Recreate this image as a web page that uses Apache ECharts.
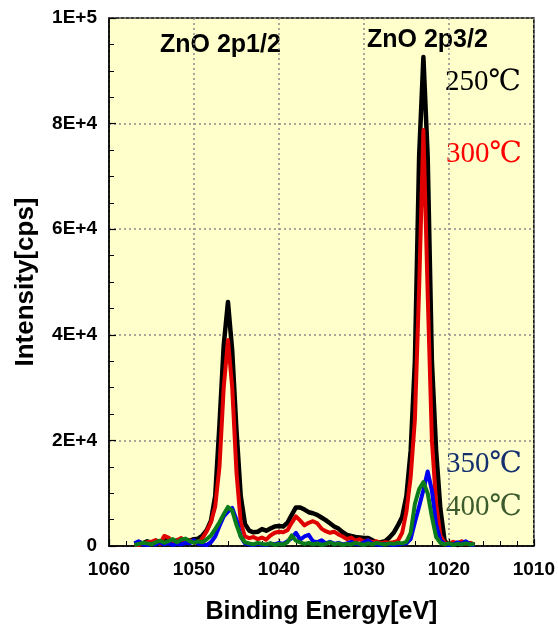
<!DOCTYPE html>
<html lang="en">
<head>
    <meta charset="UTF-8">
    <title>ZnO 2p XPS</title>
    <script src="https://cdn.jsdelivr.net/npm/echarts@6/dist/echarts.min.js"></script>
    <style>
        html, body { margin: 0; padding: 0; background: #fff; }
    </style>
</head>
<body>
    <div id="xps" style="width: 558px; height: 630px"></div>

    <script>
        // binding energy (eV), shared by all four spectra
        var energy = [
            1057, 1056.5, 1056, 1055.5, 1055, 1054.5, 1054, 1053.5, 1053, 1052.5,
            1052, 1051.5, 1051, 1050.5, 1050, 1049.5, 1049, 1048.5, 1048, 1047.5,
            1047, 1046.5, 1046, 1045.5, 1045, 1044.5, 1044, 1043.5, 1043, 1042.5,
            1042, 1041.5, 1041, 1040.5, 1040, 1039.5, 1039, 1038.5, 1038, 1037.5,
            1037, 1036.5, 1036, 1035.5, 1035, 1034.5, 1034, 1033.5, 1033, 1032.5,
            1032, 1031.5, 1031, 1030.5, 1030, 1029.5, 1029, 1028.5, 1028, 1027.5,
            1027, 1026.5, 1026, 1025.5, 1025, 1024.5, 1024, 1023.5, 1023, 1022.5,
            1022, 1021.5, 1021, 1020.5, 1020, 1019.5, 1019, 1018.5, 1018, 1017.5,
            1017
        ];

        // intensity (cps)
        var s250 = [
            400, 700, 500, 900, 600, 1000, 800, 1200, 900, 700,
            1100, 900, 1200, 1000, 1300, 1400, 2000, 3000, 4800, 9500,
            23000, 38000, 46200, 37000, 22000, 9500, 4200, 2900, 2600, 2700,
            3200, 2900, 3300, 3700, 3800, 3700, 4400, 5900, 7300, 7300,
            6900, 6400, 6200, 5900, 5400, 4900, 4300, 3700, 3300, 2600,
            2100, 1900, 1700, 1600, 1500, 1500, 1100, 600, 700, 900,
            1600, 2500, 3900, 5500, 9500, 18000, 35000, 74000, 92600, 74000,
            35000, 18000, 7000, 900, 300, 500, 200, 400, 300, 500,
            300
        ];
        var s300 = [
            300, 200, 500, 700, 800, 1100, 400, 1900, 1600, 500,
            1100, 1500, 600, 1100, 700, 600, 1500, 2800, 4500, 7500,
            15000, 30000, 39000, 30000, 14000, 4500, 1800, 1500, 1700, 1300,
            1600, 1200, 2000, 2500, 2700, 2600, 3000, 4400, 5600, 4800,
            3900, 4400, 4700, 4300, 3300, 2800, 2500, 2700, 2200, 1800,
            1300, 1600, 1000, 1300, 800, 1100, 700, 900, 500, 700,
            600, 700, 1000, 2500, 6500, 13000, 24000, 49000, 78800, 48000,
            20000, 8000, 2000, 600, 300, 800, 500, 900, 400, 600,
            200
        ];
        var s350 = [
            500, 900, 300, 200, 400, 300, 700, 300, 500, 200,
            400, 300, 600, 500, 1100, 400, 300, 200, 700, 1800,
            3800, 5600, 6500, 7200, 5000, 1800, 500, 300, 200, 400,
            300, 200, 500, 300, 600, 400, 900, 1500, 2500, 1200,
            1800, 2100, 900, 700, 1100, 500, 800, 400, 600, 300,
            500, 800, 400, 300, 700, 1100, 400, 300, 200, 400,
            300, 200, 300, 400, 500, 1300, 4500, 7500, 10600, 14100,
            10500, 4000, 1100, 400, 200, 300, 700, 400, 900, 300,
            200
        ];
        var s400 = [
            200, 400, 600, 500, 300, 700, 1000, 600, 900, 1300,
            700, 1200, 1400, 900, 600, 900, 700, 1300, 2000, 3200,
            4500, 6000, 7400, 6700, 4000, 1800, 700, 500, 300, 600,
            400, 300, 500, 200, 400, 300, 700, 2000, 1000, 700,
            400, 600, 300, 500, 200, 400, 700, 300, 500, 200,
            400, 300, 600, 400, 200, 500, 300, 600, 400, 300,
            500, 400, 600, 500, 800, 2500, 8000, 10800, 12100, 10000,
            5500, 1700, 600, 300, 500, 200, 400, 300, 500, 300,
            400
        ];

        var yTickLabels = ['0', '2E+4', '4E+4', '6E+4', '8E+4', '1E+5'];

        function pairs(vals) {
            return energy.map(function(e, i) {
                return [e, vals[i]];
            });
        }

        function spectrum(name, vals, color, width) {
            return {
                name: name,
                type: 'line',
                data: pairs(vals),
                showSymbol: false,
                lineStyle: { color: color, width: width, join: 'round' },
                itemStyle: { color: color },
                silent: true
            };
        }

        var xpsChart = echarts.init(document.getElementById('xps'));

        var boldSans = 'Liberation Sans, Arial, sans-serif';
        var serif = '"Liberation Serif", "DejaVu Serif", serif';

        var option = {
            animation: false,
            grid: {
                left: 109,
                right: 22,
                top: 18,
                bottom: 84,
                show: true,
                backgroundColor: '#ffffcc',
                borderColor: '#000',
                borderWidth: 1.5
            },
            xAxis: {
                type: 'value',
                inverse: true,
                min: 1010,
                max: 1060,
                interval: 10,
                name: 'Binding Energy[eV]',
                nameLocation: 'middle',
                nameGap: 54,
                nameTextStyle: { fontFamily: boldSans, fontWeight: 'bold', fontSize: 25, color: '#000' },
                axisLine: { lineStyle: { color: '#000', width: 1.5 } },
                axisTick: { inside: true, length: 7, lineStyle: { color: '#000', width: 1.2 } },
                minorTick: { show: true, splitNumber: 5, length: 5, lineStyle: { color: '#000', width: 1 } },
                axisLabel: {
                    margin: 14,
                    fontFamily: boldSans,
                    fontWeight: 'bold',
                    fontSize: 19,
                    color: '#000',
                    showMinLabel: true,
                    showMaxLabel: true,
                    formatter: function(v) {
                        return String(v);
                    }
                },
                splitLine: { show: true, lineStyle: { color: '#8a8a8a', width: 1.5, type: [2, 3] } }
            },
            yAxis: {
                type: 'value',
                min: 0,
                max: 100000,
                interval: 20000,
                name: 'Intensity[cps]',
                nameLocation: 'middle',
                nameGap: 70,
                nameTextStyle: { fontFamily: boldSans, fontWeight: 'bold', fontSize: 26, color: '#000' },
                axisLine: { show: true, lineStyle: { color: '#000', width: 1.5 } },
                axisTick: { show: true, inside: true, length: 7, lineStyle: { color: '#000', width: 1.2 } },
                minorTick: { show: true, splitNumber: 4, length: 5, lineStyle: { color: '#000', width: 1 } },
                axisLabel: {
                    margin: 12,
                    fontFamily: boldSans,
                    fontWeight: 'bold',
                    fontSize: 19,
                    color: '#000',
                    formatter: function(v) {
                        return yTickLabels[Math.round(v / 20000)];
                    }
                },
                splitLine: { show: true, lineStyle: { color: '#8a8a8a', width: 1.5, type: [2, 3] } }
            },
            series: [
                spectrum('250℃', s250, '#000000', 4.5),
                spectrum('300℃', s300, '#e00000', 4),
                spectrum('350℃', s350, '#0000f0', 4),
                spectrum('400℃', s400, '#0a7d1a', 4)
            ],
            graphic: [
                { type: 'text', x: 160, y: 45, style: { text: 'ZnO 2p1/2', font: 'bold 25px ' + boldSans, fill: '#000', verticalAlign: 'middle' } },
                { type: 'text', x: 367, y: 40, style: { text: 'ZnO 2p3/2', font: 'bold 25px ' + boldSans, fill: '#000', verticalAlign: 'middle' } },
                { type: 'text', x: 445, y: 82, style: { text: '250℃', font: '29px ' + serif, fill: '#000', verticalAlign: 'middle' } },
                { type: 'text', x: 446, y: 154, style: { text: '300℃', font: '29px ' + serif, fill: '#ff0000', verticalAlign: 'middle' } },
                { type: 'text', x: 446, y: 464, style: { text: '350℃', font: '29px ' + serif, fill: '#14306e', verticalAlign: 'middle' } },
                { type: 'text', x: 446, y: 507, style: { text: '400℃', font: '29px ' + serif, fill: '#3d5c2e', verticalAlign: 'middle' } }
            ]
        };

        xpsChart.setOption(option);
    </script>
</body>
</html>
